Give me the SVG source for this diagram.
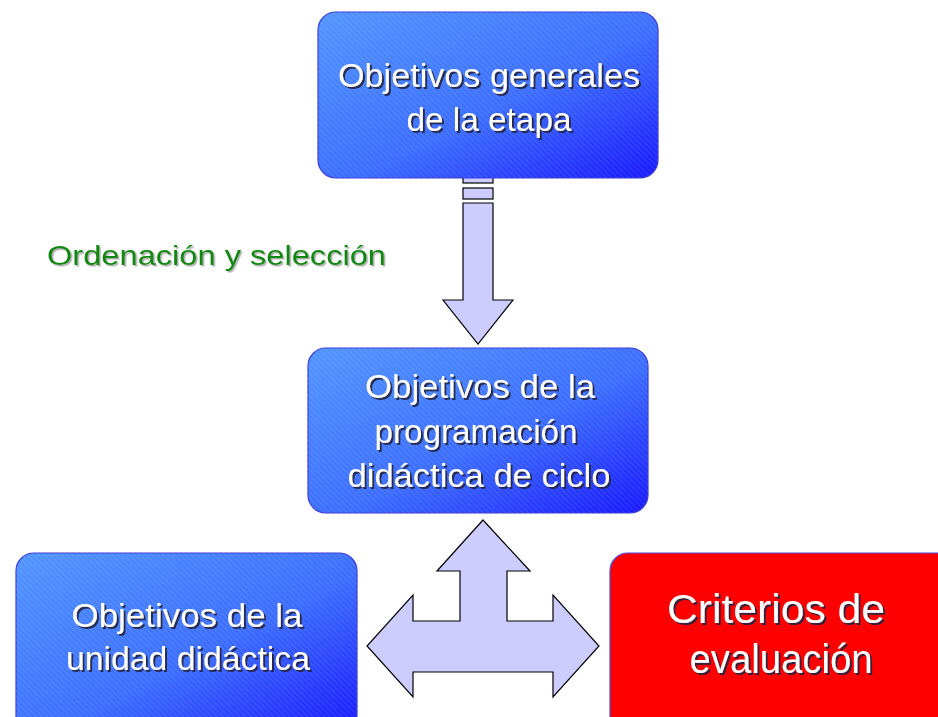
<svg xmlns="http://www.w3.org/2000/svg" width="938" height="717" viewBox="0 0 938 717">
<defs>
<linearGradient id="blue" x1="0" y1="0" x2="1" y2="1">
<stop offset="0" stop-color="#5095ff"/>
<stop offset="0.55" stop-color="#3a6cff"/>
<stop offset="1" stop-color="#1616ff"/>
</linearGradient>
<pattern id="hatch" width="4" height="4" patternUnits="userSpaceOnUse" patternTransform="rotate(45)">
<rect width="4" height="2" fill="#ffffff" fill-opacity="0.07"/>
</pattern>
<filter id="sh" x="-5%" y="-20%" width="115%" height="150%">
<feDropShadow dx="2" dy="2" stdDeviation="0.6" flood-color="#202040" flood-opacity="0.9"/>
</filter>
<filter id="gsh" x="-5%" y="-20%" width="115%" height="150%">
<feDropShadow dx="1.5" dy="1.5" stdDeviation="0.6" flood-color="#999999" flood-opacity="0.8"/>
</filter>
</defs>
<style>
.box{fill:url(#blue);stroke:#3a3ad8;stroke-width:1.2}
.red{fill:#ff0000;stroke:#4a4ae0;stroke-width:1.2}
.tex{fill:url(#hatch)}
.t{font-family:"Liberation Sans","Noto Sans",sans-serif;fill:#ffffff;text-anchor:middle;filter:url(#sh)}
.arrow{fill:#ccccff;stroke:#000000;stroke-width:1.2;stroke-linejoin:miter}
</style>
<rect width="938" height="717" fill="#ffffff"/>

<g id="connectors">
<rect class="arrow" x="463" y="177" width="30" height="6"/>
<rect class="arrow" x="463" y="188" width="30" height="11"/>
<polygon class="arrow" points="463,203 493,203 493,300 513,300 478,344 443,300 463,300"/>
<polygon class="arrow" points="483,520 530,571 507,571 507,621 553,621 553,595 599,646 553,697 553,672 413,672 413,697 367,646 413,595 413,621 460,621 460,571 437,571"/>
</g>

<g id="label-ordenacion">
<text x="47" y="265" font-family="'Liberation Sans','Noto Sans',sans-serif" font-size="28" fill="#0a8a0a" textLength="339" lengthAdjust="spacingAndGlyphs" filter="url(#gsh)">Ordenación y selección</text>
</g>

<g id="node-objetivos-generales">
<rect class="box" x="318" y="12" width="340" height="166" rx="18"/>
<rect class="tex" x="318" y="12" width="340" height="166" rx="18"/>
<text class="t" x="489" y="87" font-size="34" textLength="302" lengthAdjust="spacingAndGlyphs">Objetivos generales</text>
<text class="t" x="489" y="131" font-size="34" textLength="165" lengthAdjust="spacingAndGlyphs">de la etapa</text>
</g>

<g id="node-programacion">
<rect class="box" x="308" y="348" width="340" height="165" rx="18"/>
<rect class="tex" x="308" y="348" width="340" height="165" rx="18"/>
<text class="t" x="480" y="398" font-size="34" textLength="230" lengthAdjust="spacingAndGlyphs">Objetivos de la</text>
<text class="t" x="476" y="443" font-size="34" textLength="203" lengthAdjust="spacingAndGlyphs">programación</text>
<text class="t" x="479" y="487" font-size="34" textLength="263" lengthAdjust="spacingAndGlyphs">didáctica de ciclo</text>
</g>

<g id="node-unidad">
<rect class="box" x="16" y="553" width="341" height="180" rx="18"/>
<rect class="tex" x="16" y="553" width="341" height="180" rx="18"/>
<text class="t" x="187" y="627" font-size="34" textLength="231" lengthAdjust="spacingAndGlyphs">Objetivos de la</text>
<text class="t" x="188" y="670" font-size="34" textLength="244" lengthAdjust="spacingAndGlyphs">unidad didáctica</text>
</g>

<g id="node-criterios">
<rect class="red" x="610" y="553" width="345" height="180" rx="18"/>
<text class="t" x="776" y="623" font-size="40" textLength="218" lengthAdjust="spacingAndGlyphs">Criterios de</text>
<text class="t" x="781" y="673" font-size="40" textLength="183" lengthAdjust="spacingAndGlyphs">evaluación</text>
</g>
</svg>
